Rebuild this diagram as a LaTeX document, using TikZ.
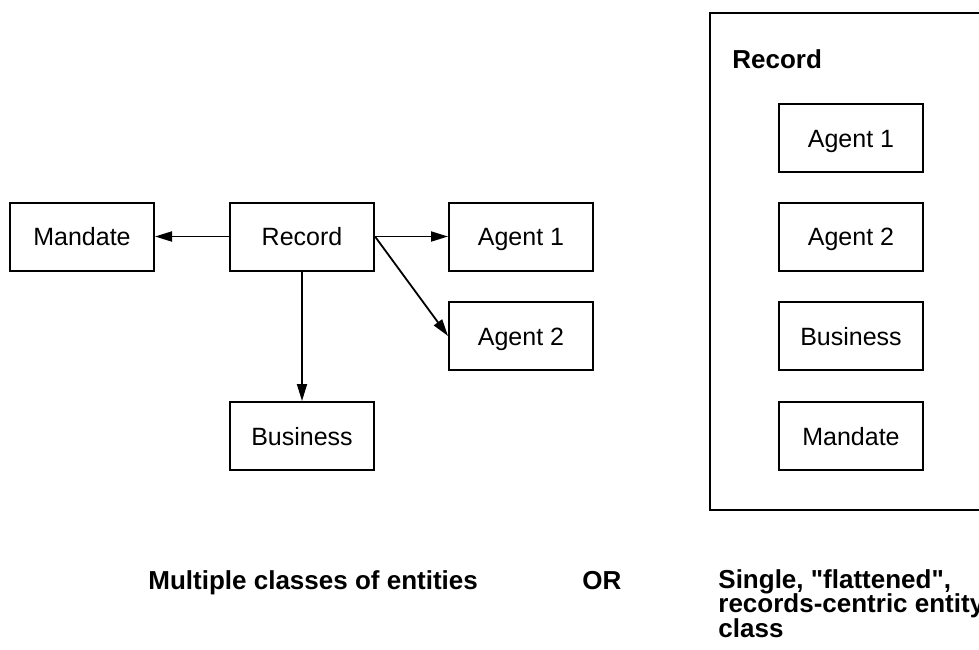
\documentclass[tikz,border=0pt]{standalone}
\usepackage{fontspec}
\setmainfont{Liberation Sans}
\usetikzlibrary{arrows.meta,positioning}

\begin{document}
\begin{tikzpicture}[x=0.5pt,y=-0.5pt,
  entity/.style={draw, line width=1pt, minimum width=72pt, minimum height=34pt,
    inner sep=0pt, text height=9pt, text depth=0pt,
    font=\fontsize{12.5}{15}\selectfont},
  link/.style={line width=0.9pt, -{Triangle[length=8.5pt,width=5pt]}},
  caption/.style={inner sep=0pt, anchor=base west, align=left,
    font=\fontsize{13}{12}\selectfont\bfseries}]
\clip (0,0) rectangle (979,649);

% multiple classes
\node[entity] (record) at (302,236.5) {Record};
\node[entity] (mandate) at (82,236.5) {Mandate};
\node[entity] (agentA) at (521,236.5) {Agent 1};
\node[entity] (agentB) at (521,336) {Agent 2};
\node[entity] (business) at (302,436) {Business};
\draw[link] (record.west) -- (mandate.east);
\draw[link] (record.east) -- (agentA.west);
\draw[link] (record.east) -- (agentB.west);
\draw[link] (record.south) -- (business.north);

% flattened class
\draw[line width=1.4pt] (710,13) rectangle (1010,510);
\node[caption] (flatrecord) at (732,68) {Record};
\node[entity] (flatA) at (851,138) {Agent 1};
\node[entity] (flatB) at (851,236.5) {Agent 2};
\node[entity] (flatbusiness) at (851,336) {Business};
\node[entity] (flatmandate) at (851,436) {Mandate};

\node[caption] (multi) at (148,589) {Multiple classes of entities};
\node[caption] (or) at (582,589) {OR};
% base of a multi-line node is its last line
\node[caption] (single) at (718,637) {Single, \textquotedbl flattened\textquotedbl,\\[-1pt]records-centric entity\\[-1pt]class};
\end{tikzpicture}
\end{document}
